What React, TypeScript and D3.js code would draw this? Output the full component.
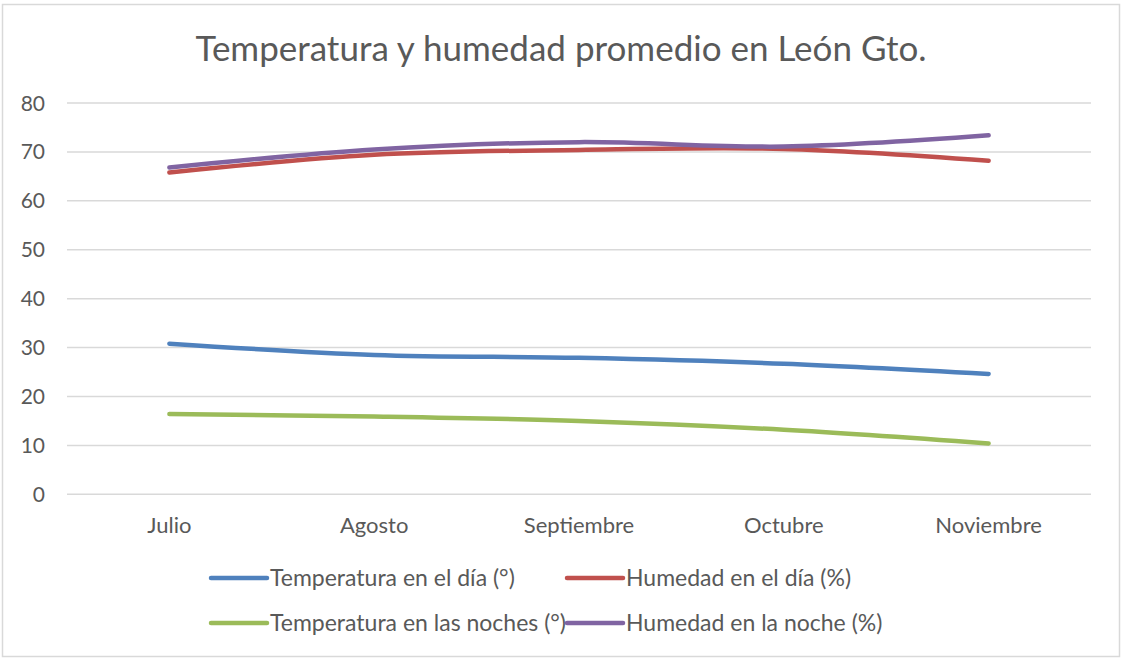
import React from "react";
import * as d3 from "d3";

const categories = ["Julio", "Agosto", "Septiembre", "Octubre", "Noviembre"];
const tempDia = [30.8, 28.5, 27.9, 26.7, 24.6];
const humDia = [65.8, 69.4, 70.4, 70.6, 68.2];
const tempNoche = [16.4, 15.9, 15.0, 13.2, 10.4];
const humNoche = [66.8, 70.5, 72.0, 71.1, 73.4];
const yTicks = [0, 10, 20, 30, 40, 50, 60, 70, 80];

const series = [
  { name: "Temperatura en el día (°)", values: tempDia, color: "#4F81BD" },
  { name: "Humedad en el día (%)", values: humDia, color: "#C0504D" },
  { name: "Temperatura en las noches (°)", values: tempNoche, color: "#9BBB59" },
  { name: "Humedad en la noche (%)", values: humNoche, color: "#8064A2" },
];

const FONT = "Lato, 'Open Sans', sans-serif";
const TEXT = "#595959";

export default function App() {
  const W = 1122, H = 658;
  const left = 67, right = 1091, top = 103, bottom = 494.3;
  const x = d3.scalePoint<string>().domain(categories).range([left, right]).padding(0.5);
  const y = d3.scaleLinear().domain([0, 80]).range([bottom, top]);
  const line = d3
    .line<number>()
    .x((_, i) => x(categories[i]) as number)
    .y((d) => y(d))
    .curve(d3.curveCardinal.tension(0));

  const legendPos = [
    { lx: 211, ly: 578 },
    { lx: 567, ly: 578 },
    { lx: 211, ly: 623 },
    { lx: 567, ly: 623 },
  ];

  return (
    <svg
      width={W}
      height={H}
      style={{ position: "absolute", left: 0, top: 0, display: "block" }}
      fontFamily={FONT}
    >
      <rect x={0} y={0} width={W} height={H} fill="#fff" />
      <rect x={2.5} y={4.5} width={1117} height={652} fill="#fff" stroke="#d9d9d9" strokeWidth={1.5} />
      <text x={561} y={61} textAnchor="middle" fontSize={35} fill={TEXT}>
        Temperatura y humedad promedio en León Gto.
      </text>
      {yTicks.map((t) => (
        <g key={t}>
          <line x1={left} x2={right} y1={y(t)} y2={y(t)} stroke="#d9d9d9" strokeWidth={1.5} />
          <text x={45} y={y(t)} dy="0.36em" textAnchor="end" fontSize={21} fill={TEXT}>
            {t}
          </text>
        </g>
      ))}
      {categories.map((c) => (
        <text key={c} x={x(c)} y={533} textAnchor="middle" fontSize={22} fill={TEXT}>
          {c}
        </text>
      ))}
      {series.map((s) => (
        <path
          key={s.name}
          d={line(s.values) || ""}
          fill="none"
          stroke={s.color}
          strokeWidth={4.5}
          strokeLinecap="round"
          strokeLinejoin="round"
        />
      ))}
      {series.map((s, i) => (
        <g key={s.name}>
          <line
            x1={legendPos[i].lx}
            x2={legendPos[i].lx + 56}
            y1={legendPos[i].ly}
            y2={legendPos[i].ly}
            stroke={s.color}
            strokeWidth={4.5}
            strokeLinecap="round"
          />
          <text x={legendPos[i].lx + 59} y={legendPos[i].ly} dy="0.36em" fontSize={23} fill={TEXT}>
            {s.name}
          </text>
        </g>
      ))}
    </svg>
  );
}
